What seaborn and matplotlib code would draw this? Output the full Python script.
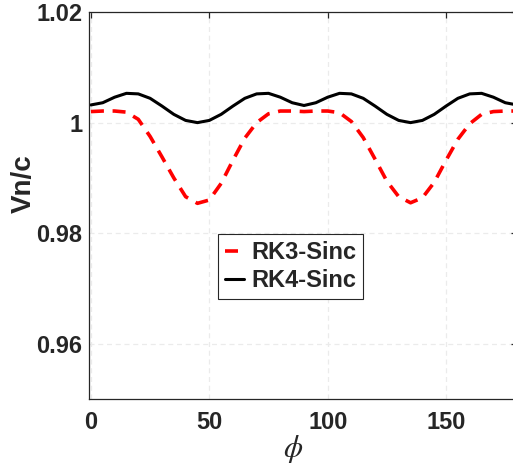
import numpy as np
import pandas as pd
import seaborn as sns
import matplotlib
matplotlib.use('Agg')
import matplotlib.pyplot as plt

phi = [0, 5, 10, 15, 20, 25, 30, 35, 40, 45, 50, 55, 60, 65, 70, 75, 80, 85, 90,
       95, 100, 105, 110, 115, 120, 125, 130, 135, 140, 145, 150, 155, 160, 165, 170, 175, 180]

rk3 = [1.0020, 1.0021, 1.0021, 1.0019, 1.0006, 0.9975, 0.9938, 0.9900, 0.9866, 0.9854,
       0.9860, 0.9890, 0.9932, 0.9972, 1.0000, 1.0016, 1.0021, 1.0021, 1.0020,
       1.0021, 1.0021, 1.0018, 1.0002, 0.9973, 0.9934, 0.9894, 0.9866, 0.9855,
       0.9864, 0.9892, 0.9932, 0.9970, 0.9998, 1.0015, 1.0020, 1.0021, 1.0021]

rk4 = [1.0032, 1.0036, 1.0046, 1.0053, 1.0052, 1.0044, 1.0030, 1.0015, 1.0004, 1.0000,
       1.0004, 1.0015, 1.0030, 1.0044, 1.0052, 1.0053, 1.0046, 1.0036, 1.0031,
       1.0036, 1.0046, 1.0053, 1.0052, 1.0044, 1.0030, 1.0015, 1.0004, 1.0000,
       1.0004, 1.0015, 1.0030, 1.0044, 1.0052, 1.0053, 1.0046, 1.0036, 1.0032]

labels = ['RK3-Sinc', 'RK4-Sinc']

sns.set_style('white')
plt.rcParams['font.family'] = ['Liberation Sans', 'DejaVu Sans']
plt.rcParams['mathtext.fontset'] = 'stix'

fig = plt.figure(figsize=(5.13, 4.65), dpi=100)
ax = fig.add_axes([0.174, 0.142, 0.834, 0.832])

df = pd.DataFrame({'phi': phi, 'rk3': rk3, 'rk4': rk4})

sns.lineplot(data=df, x='phi', y='rk3', ax=ax, color='#ff0000', lw=2.6,
             linestyle=(0, (3.6, 2.4)), label=labels[0])
sns.lineplot(data=df, x='phi', y='rk4', ax=ax, color='black', lw=2.2,
             label=labels[1])

ax.set_xlim(-0.7, 180)
ax.set_ylim(0.95, 1.02)
ax.set_xticks([0, 50, 100, 150])
ax.set_yticks([0.96, 0.98, 1.0, 1.02])
ax.set_yticklabels(['0.96', '0.98', '1', '1.02'])

ax.grid(True, linestyle=(0, (4, 3)), color='#ebebeb', lw=0.9)
ax.set_axisbelow(True)

for s in ax.spines.values():
    s.set_color('#262626')
    s.set_linewidth(0.9)

ax.tick_params(axis='both', direction='in', length=4, width=0.9, colors='#262626',
               top=True, right=True, labelsize=17)
ax.tick_params(axis='x', pad=9)
ax.tick_params(axis='y', pad=5)
for t in ax.get_xticklabels() + ax.get_yticklabels():
    t.set_fontweight('bold')

ax.set_xlabel(r'$\phi$', fontsize=22, color='#262626')
ax.xaxis.set_label_coords(0.476, -0.088)
ax.set_ylabel('Vn/c', fontsize=20, fontweight='bold', color='#262626')
ax.yaxis.set_label_coords(-0.122, 0.556)

leg = ax.legend(loc='upper left', bbox_to_anchor=(0.301, 0.426), borderaxespad=0,
                prop={'weight': 'bold', 'size': 17}, handlelength=0.8,
                handletextpad=0.3, labelspacing=0.2, borderpad=0.3,
                fancybox=False, framealpha=1, edgecolor='#262626')
leg.get_frame().set_linewidth(0.8)

fig.savefig('out.png', dpi=100)
